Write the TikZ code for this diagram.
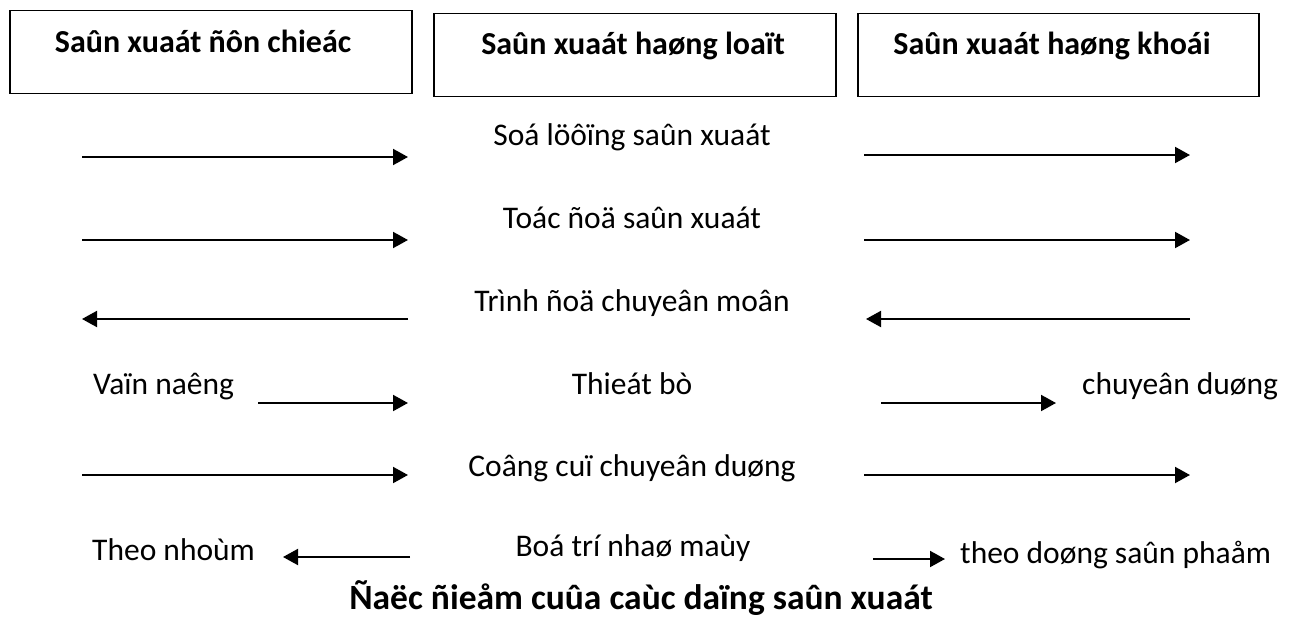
\documentclass[tikz,border=0pt]{standalone}
\usepackage{fontspec}
\setmainfont{Carlito}
\usetikzlibrary{arrows.meta}
\begin{document}
\begin{tikzpicture}[x=1pt,y=-1pt,
  hdrbox/.style={draw=black,line width=1.5pt,anchor=north west,inner sep=0pt},
  hdr/.style={anchor=base,inner sep=0pt,font=\fontsize{32}{38}\selectfont\bfseries},
  ttl/.style={anchor=base,inner sep=0pt,font=\fontsize{35.5}{42}\selectfont\bfseries},
  lbl/.style={anchor=base,inner sep=0pt,font=\fontsize{31.5}{36}\selectfont},
  lblw/.style={lbl,anchor=base west},
  arr/.style={line width=2pt,-{Triangle[length=15pt,width=16pt]}}]
\useasboundingbox (0,0) rectangle (1294,618);

% column headings
\node[hdrbox,minimum width=402pt,minimum height=83pt] (b1) at (9,10) {};
\node[hdrbox,minimum width=402pt,minimum height=83pt] (b2) at (433,13) {};
\node[hdrbox,minimum width=401pt,minimum height=83pt] (b3) at (857,13) {};
\node[hdr] (h1) at (203,53) {Saûn xuaát ñôn chieác};
\node[hdr] (h2) at (633,55) {Saûn xuaát haøng loaït};
\node[hdr] (h3) at (1052,55) {Saûn xuaát haøng khoái};

% criteria in the middle column
\node[lbl] (c1) at (632,145) {Soá löôïng saûn xuaát};
\node[lbl] (c2) at (632,228) {Toác ñoä saûn xuaát};
\node[lbl] (c3) at (632,311) {Trình ñoä chuyeân moân};
\node[lbl] (c4) at (632,394) {Thieát bò};
\node[lbl] (c5) at (632,476) {Coâng cuï chuyeân duøng};
\node[lbl] (c6) at (633,556) {Boá trí nhaø maùy};

% side labels
\node[lblw] (v1) at (93,394) {Vaïn naêng};
\node[lblw] (v2) at (1082,394) {chuyeân duøng};
\node[lblw] (v3) at (92,560) {Theo nhoùm};
\node[lblw] (v4) at (960,563) {theo doøng saûn phaåm};

% title
\node[ttl] (title) at (641,609) {Ñaëc ñieåm cuûa caùc daïng saûn xuaát};

% arrow end points
\coordinate (L1a) at (82,157);  \coordinate (L1b) at (408,157);
\coordinate (L2a) at (82,240);  \coordinate (L2b) at (408,240);
\coordinate (L3a) at (408,319); \coordinate (L3b) at (82,319);
\coordinate (L4a) at (258,403); \coordinate (L4b) at (408,403);
\coordinate (L5a) at (82,475);  \coordinate (L5b) at (408,475);
\coordinate (L6a) at (410,557); \coordinate (L6b) at (283,557);
\coordinate (R1a) at (864,155); \coordinate (R1b) at (1190,155);
\coordinate (R2a) at (864,240); \coordinate (R2b) at (1190,240);
\coordinate (R3a) at (1190,319);\coordinate (R3b) at (866,319);
\coordinate (R4a) at (881,403); \coordinate (R4b) at (1056,403);
\coordinate (R5a) at (864,475); \coordinate (R5b) at (1190,475);
\coordinate (R6a) at (873,559); \coordinate (R6b) at (945,559);

\foreach \r in {1,...,6}{
  \draw[arr] (L\r a) -- (L\r b);
  \draw[arr] (R\r a) -- (R\r b);
}
\end{tikzpicture}
\end{document}
